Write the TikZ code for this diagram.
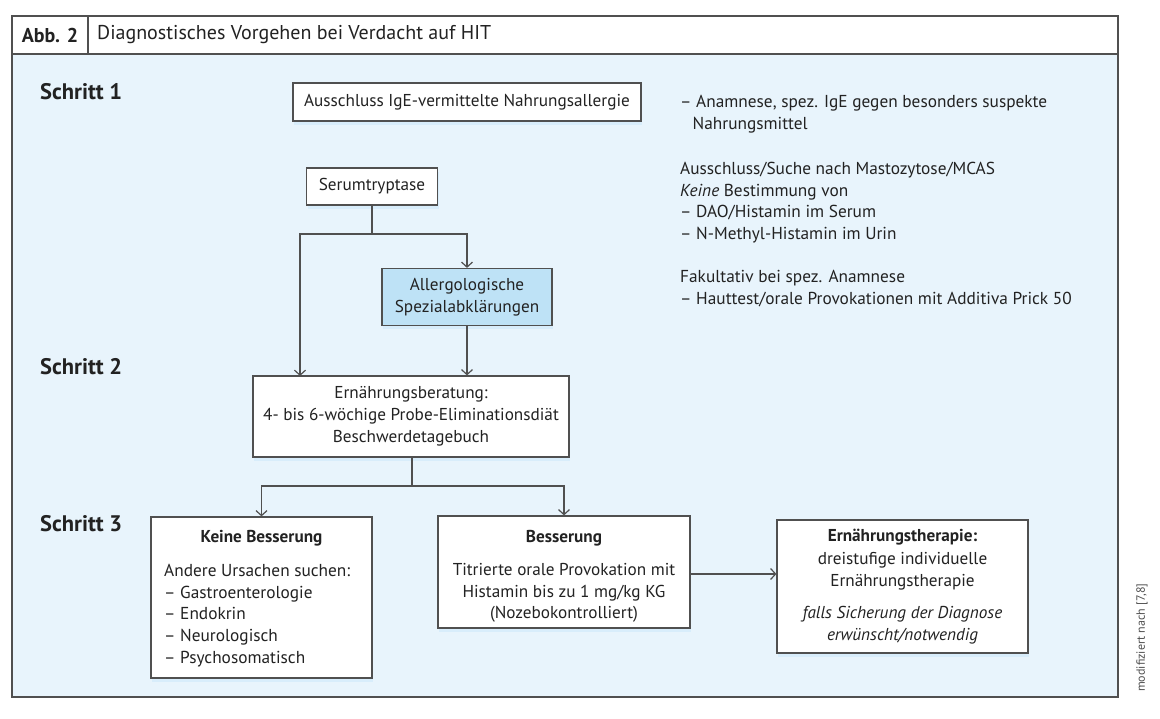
\documentclass[tikz,border=0pt]{standalone}
\usepackage{fontspec}
\setmainfont{PT Sans}
\usetikzlibrary{arrows.meta,shadows}
\definecolor{bgblue}{HTML}{E8F4FC}
\definecolor{hlblue}{HTML}{BEE2F6}
\definecolor{lineg}{HTML}{505050}
\definecolor{txt}{HTML}{222222}
\definecolor{shad}{HTML}{D8EDFB}
\tikzset{
  box/.style={draw=lineg, line width=1.2pt, fill=white, inner sep=0pt, align=center,
    text=txt, font=\fontsize{17.2}{22}\selectfont,
    drop shadow={shadow xshift=1pt, shadow yshift=-4pt, fill=shad, opacity=1}},
  conn/.style={draw=lineg, line width=1.2pt},
  arr/.style={conn, -{Straight Barb[length=5pt,width=11pt,line width=1.2pt]}},
  stepl/.style={anchor=west, font=\fontsize{22.5}{24}\selectfont\bfseries, text=txt, inner sep=0pt},
  note/.style={anchor=north west, align=left, font=\fontsize{17.3}{21.7}\selectfont, text=txt, inner sep=0pt},
  inner/.style={text=txt, font=\fontsize{17.2}{21.7}\selectfont, inner sep=0pt}
}
\begin{document}
\begin{tikzpicture}[x=1pt,y=-1pt]
\useasboundingbox (0,0) rectangle (1160,719);
\fill[white] (0,0) rectangle (1160,719);
% frame
\draw[lineg, line width=1.2pt, fill=bgblue] (12,16) rectangle (1118,697);
\draw[lineg, line width=1.2pt, fill=white] (12,16) rectangle (1118,54);
\draw[lineg, line width=1.2pt] (88,16) -- (88,54);
\node[inner, font=\fontsize{20}{22}\selectfont\bfseries] (abb) at (50,35) {Abb. 2};
\node[inner, anchor=west, font=\fontsize{20}{22}\selectfont] (title) at (97,35) {Diagnostisches Vorgehen bei Verdacht auf HIT};
% step labels
\node[stepl] (s1) at (40,92) {Schritt 1};
\node[stepl] (s2) at (40,367) {Schritt 2};
\node[stepl] (s3) at (40,524) {Schritt 3};
% boxes
\node[box, minimum width=348pt, minimum height=38pt] (aus) at (467,102) {Ausschluss IgE-vermittelte Nahrungsallergie};
\node[box, minimum width=131pt, minimum height=37pt] (ser) at (372,186.5) {Serumtryptase};
\node[box, fill=hlblue, minimum width=170pt, minimum height=57pt] (all) at (467,297) {Allergologische\\Spezialabklärungen};
\node[box, minimum width=316pt, minimum height=81pt] (ern) at (411,416.5) {Ernährungsberatung:\\4- bis 6-wöchige Probe-Eliminationsdiät\\Beschwerdetagebuch};
\node[box, minimum width=221pt, minimum height=161pt] (kei) at (261.5,597.5) {};
\node[box, minimum width=252pt, minimum height=112pt] (bes) at (564,572) {};
\node[box, minimum width=251pt, minimum height=133pt] (the) at (902.5,586.5) {};
% box contents
\node[inner, font=\fontsize{17.2}{22}\selectfont\bfseries] (keit) at (261.5,538) {Keine Besserung};
\node[note] (keil) at (164,564) {Andere Ursachen suchen:\\– Gastroenterologie\\– Endokrin\\– Neurologisch\\– Psychosomatisch};
\node[inner, font=\fontsize{17.2}{22}\selectfont\bfseries] (best) at (564,538) {Besserung};
\node[inner, align=center, anchor=north] (besl) at (564,563) {Titrierte orale Provokation mit\\Histamin bis zu 1 mg/kg KG\\(Nozebokontrolliert)};
\node[inner, font=\fontsize{17.2}{22}\selectfont\bfseries] (thet) at (902.5,537) {Ernährungstherapie:};
\node[inner, align=center, anchor=north] (thel) at (902.5,552) {dreistufige individuelle\\Ernährungstherapie};
\node[inner, align=center, anchor=north, font=\fontsize{17.2}{21.7}\selectfont\itshape] (thei) at (902.5,606) {falls Sicherung der Diagnose\\erwünscht/notwendig};
% right notes
\node[note] (n1) at (680,95) {– Anamnese, spez. IgE gegen besonders suspekte\\\hspace*{12.5pt}Nahrungsmittel};
\node[note] (n2) at (680,162) {Ausschluss/Suche nach Mastozytose/MCAS\\\textit{Keine} Bestimmung von\\– DAO/Histamin im Serum\\– N-Methyl-Histamin im Urin};
\node[note] (n3) at (680,270) {Fakultativ bei spez. Anamnese\\– Hauttest/orale Provokationen mit Additiva Prick 50};
% source
\node[inner, rotate=90, anchor=west, text=txt!80, font=\fontsize{12}{13}\selectfont] (src) at (1142,692) {modifiziert nach [7,8]};
% connectors
\coordinate (j1) at (ser.south |- 0,234);
\draw[conn] (ser.south) -- (j1);
\draw[arr] (j1) -| (300,376);
\draw[arr] (j1) -| (all.north);
\draw[arr] (all.south) -- (all.south |- ern.north);
\coordinate (j2) at (412,486);
\draw[conn] (412,457) -- (j2);
\draw[arr] (j2) -| (kei.north);
\draw[arr] (j2) -| (bes.north);
\draw[arr] (bes.east |- 0,574) -- (the.west |- 0,574);
\end{tikzpicture}
\end{document}
